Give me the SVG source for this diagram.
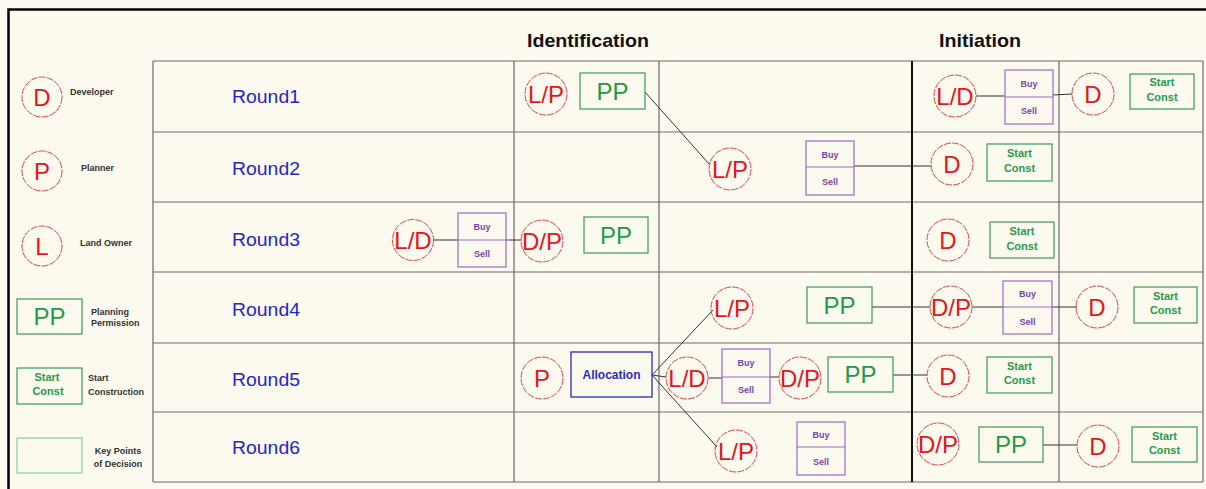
<svg xmlns="http://www.w3.org/2000/svg" width="1206" height="489" viewBox="0 0 1206 489">
<style>
.bg{fill:#fcfaef}
.frame{stroke:#000;stroke-width:2.5;fill:none}
.grid{stroke:#6a6a6a;stroke-width:1.2;fill:none}
.gridk{stroke:#111;stroke-width:2;fill:none}
.circ{fill:none;stroke:#e0454f;stroke-width:1;stroke-dasharray:7 1.2}
.ct{font-family:"Liberation Sans",Arial,sans-serif;font-size:24px;fill:#e8141c;text-anchor:middle}
.pp{fill:none;stroke:#3a9a5a;stroke-width:1.2}
.ppt{font-family:"Liberation Sans",Arial,sans-serif;font-size:24px;fill:#1f9a45;text-anchor:middle}
.sct{font-family:"Liberation Sans",Arial,sans-serif;font-size:11px;font-weight:bold;fill:#2a9a4a;text-anchor:middle}
.bs{fill:none;stroke:#9a6ac8;stroke-width:1.2}
.bst{font-family:"Liberation Sans",Arial,sans-serif;font-size:9px;font-weight:bold;fill:#7a44b0;text-anchor:middle}
.al{fill:none;stroke:#2a2ac0;stroke-width:1.3}
.alt{font-family:"Liberation Sans",Arial,sans-serif;font-size:12px;font-weight:bold;fill:#2a2ac8;text-anchor:middle}
.rnd{font-family:"Liberation Sans",Arial,sans-serif;font-size:17.5px;fill:#2424d0}
.hdr{font-family:"Liberation Sans",Arial,sans-serif;font-size:19px;font-weight:bold;fill:#111;text-anchor:middle}
.lg{font-family:"Liberation Sans",Arial,sans-serif;font-size:9px;font-weight:bold;fill:#333}
.lgc{font-family:"Liberation Sans",Arial,sans-serif;font-size:9px;font-weight:bold;fill:#333;text-anchor:middle}
.con{stroke:#333;stroke-width:1;fill:none}
</style>
<rect class="bg" x="0" y="0" width="1206" height="489"/>
<path class="frame" d="M8.5,489 V9.5 H1206"/>

<g id="grid">
<path class="grid" d="M153,61 H1203 M153,132 H1203 M153,202 H1203 M153,272 H1203 M153,343 H1203 M153,412 H1203 M153,482 H1203"/>
<path class="grid" d="M153,61 V482 M514,61 V482 M659,61 V482 M1059,61 V482 M1203,61 V482"/>
<path class="gridk" d="M912,61 V482"/>
</g>

<g id="headers">
<text class="hdr" x="588" y="47" textLength="122" lengthAdjust="spacingAndGlyphs">Identification</text>
<text class="hdr" x="980" y="47" textLength="82" lengthAdjust="spacingAndGlyphs">Initiation</text>
</g>

<g id="round-labels">
<text class="rnd" x="232" y="103" textLength="68" lengthAdjust="spacingAndGlyphs">Round1</text>
<text class="rnd" x="232" y="175" textLength="68" lengthAdjust="spacingAndGlyphs">Round2</text>
<text class="rnd" x="232" y="246" textLength="68" lengthAdjust="spacingAndGlyphs">Round3</text>
<text class="rnd" x="232" y="316" textLength="68" lengthAdjust="spacingAndGlyphs">Round4</text>
<text class="rnd" x="232" y="386" textLength="68" lengthAdjust="spacingAndGlyphs">Round5</text>
<text class="rnd" x="232" y="454" textLength="68" lengthAdjust="spacingAndGlyphs">Round6</text>
</g>

<g id="legend">
<g id="legend-developer">
<circle class="circ" cx="42" cy="97" r="20"/>
<text class="ct" x="42" y="105.5">D</text>
<text class="lg" x="70" y="95">Developer</text>
</g>
<g id="legend-planner">
<circle class="circ" cx="42" cy="171" r="20"/>
<text class="ct" x="42" y="179.5">P</text>
<text class="lg" x="81" y="171">Planner</text>
</g>
<g id="legend-landowner">
<circle class="circ" cx="42" cy="246" r="20"/>
<text class="ct" x="42" y="254.5">L</text>
<text class="lg" x="80" y="246">Land Owner</text>
</g>
<g id="legend-pp">
<rect class="pp" x="17" y="299" width="65" height="35"/>
<text class="ppt" x="49.5" y="325">PP</text>
<text class="lg" x="91" y="315">Planning</text>
<text class="lg" x="91" y="326">Permission</text>
</g>
<g id="legend-startconst">
<rect class="pp" x="17" y="368" width="65" height="36"/>
<text class="sct" x="47" y="381">Start</text>
<text class="sct" x="48" y="395">Const</text>
<text class="lg" x="88" y="381">Start</text>
<text class="lg" x="88" y="395">Construction</text>
</g>
<g id="legend-keypoints">
<rect class="pp" x="17" y="438" width="65" height="35" style="stroke:#8acaa0"/>
<text class="lgc" x="118" y="454">Key Points</text>
<text class="lgc" x="118" y="467">of Decision</text>
</g>
</g>

<g id="connectors">
<path class="con" d="M645,92 L710,165"/>
<path class="con" d="M854,166 H931"/>
<path class="con" d="M976,96 H1005 M1053,95 L1072,94"/>
<path class="con" d="M433,240 H458 M506,240 H521"/>
<path class="con" d="M872,307 H930 M972,307 H1003 M1052,307 H1077"/>
<path class="con" d="M652,375 L713,310 M652,375 L666,377 M652,375 L717,447"/>
<path class="con" d="M708,378 H722 M770,377 H779"/>
<path class="con" d="M893,375 H927"/>
<path class="con" d="M1043,445 H1077"/>
</g>

<!-- Round 1 -->
<g id="r1-lp">
<circle class="circ" cx="546" cy="94" r="21"/>
<text class="ct" x="546" y="103">L/P</text>
</g>
<g id="r1-pp">
<rect class="pp" x="580" y="73" width="65" height="36"/>
<text class="ppt" x="612.5" y="99.5">PP</text>
</g>
<g id="r1-ld">
<circle class="circ" cx="955" cy="96" r="21"/>
<text class="ct" x="955" y="105">L/D</text>
</g>
<g id="r1-buysell">
<rect class="bs" x="1005" y="70" width="48" height="54"/>
<path class="bs" d="M1005,97 H1053"/>
<text class="bst" x="1029" y="87">Buy</text>
<text class="bst" x="1029" y="114">Sell</text>
</g>
<g id="r1-d">
<circle class="circ" cx="1093" cy="94" r="21"/>
<text class="ct" x="1093" y="102.5">D</text>
</g>
<g id="r1-startconst">
<rect class="pp" x="1130" y="74" width="64" height="35"/>
<text class="sct" x="1162" y="86">Start</text>
<text class="sct" x="1162" y="101">Const</text>
</g>

<!-- Round 2 -->
<g id="r2-lp">
<circle class="circ" cx="730" cy="169" r="21"/>
<text class="ct" x="730" y="178">L/P</text>
</g>
<g id="r2-buysell">
<rect class="bs" x="806" y="141" width="48" height="54"/>
<path class="bs" d="M806,167 H854"/>
<text class="bst" x="830" y="158">Buy</text>
<text class="bst" x="830" y="185">Sell</text>
</g>
<g id="r2-d">
<circle class="circ" cx="952" cy="164" r="21"/>
<text class="ct" x="952" y="172.5">D</text>
</g>
<g id="r2-startconst">
<rect class="pp" x="987" y="144" width="65" height="37"/>
<text class="sct" x="1019.5" y="157">Start</text>
<text class="sct" x="1019.5" y="172">Const</text>
</g>

<!-- Round 3 -->
<g id="r3-ld">
<circle class="circ" cx="413" cy="240" r="20.5"/>
<text class="ct" x="413" y="249">L/D</text>
</g>
<g id="r3-buysell">
<rect class="bs" x="458" y="213" width="48" height="54"/>
<path class="bs" d="M458,240 H506"/>
<text class="bst" x="482" y="230">Buy</text>
<text class="bst" x="482" y="257">Sell</text>
</g>
<g id="r3-dp">
<circle class="circ" cx="542" cy="241" r="21"/>
<text class="ct" x="542" y="250">D/P</text>
</g>
<g id="r3-pp">
<rect class="pp" x="584" y="217" width="64" height="36"/>
<text class="ppt" x="616" y="243.5">PP</text>
</g>
<g id="r3-d">
<circle class="circ" cx="948" cy="240" r="21"/>
<text class="ct" x="948" y="248.5">D</text>
</g>
<g id="r3-startconst">
<rect class="pp" x="990" y="222" width="64" height="36"/>
<text class="sct" x="1022" y="235">Start</text>
<text class="sct" x="1022" y="250">Const</text>
</g>

<!-- Round 4 -->
<g id="r4-lp">
<circle class="circ" cx="732" cy="308" r="21"/>
<text class="ct" x="732" y="317">L/P</text>
</g>
<g id="r4-pp">
<rect class="pp" x="807" y="287" width="65" height="36"/>
<text class="ppt" x="839.5" y="313.5">PP</text>
</g>
<g id="r4-dp">
<circle class="circ" cx="951" cy="307" r="21"/>
<text class="ct" x="951" y="316">D/P</text>
</g>
<g id="r4-buysell">
<rect class="bs" x="1003" y="281" width="49" height="53"/>
<path class="bs" d="M1003,307 H1052"/>
<text class="bst" x="1027.5" y="297">Buy</text>
<text class="bst" x="1027.5" y="325">Sell</text>
</g>
<g id="r4-d">
<circle class="circ" cx="1097" cy="307" r="21"/>
<text class="ct" x="1097" y="315.5">D</text>
</g>
<g id="r4-startconst">
<rect class="pp" x="1134" y="287" width="63" height="36"/>
<text class="sct" x="1165.5" y="300">Start</text>
<text class="sct" x="1165.5" y="314">Const</text>
</g>

<!-- Round 5 -->
<g id="r5-p">
<circle class="circ" cx="542" cy="378" r="21"/>
<text class="ct" x="542" y="386.5">P</text>
</g>
<g id="r5-allocation">
<rect class="al" x="571" y="352" width="81" height="45"/>
<text class="alt" x="611.5" y="379">Allocation</text>
</g>
<g id="r5-ld">
<circle class="circ" cx="687" cy="378" r="21"/>
<text class="ct" x="687" y="387">L/D</text>
</g>
<g id="r5-buysell">
<rect class="bs" x="722" y="349" width="48" height="54"/>
<path class="bs" d="M722,377 H770"/>
<text class="bst" x="746" y="366">Buy</text>
<text class="bst" x="746" y="393">Sell</text>
</g>
<g id="r5-dp">
<circle class="circ" cx="800" cy="378" r="21"/>
<text class="ct" x="800" y="387">D/P</text>
</g>
<g id="r5-pp">
<rect class="pp" x="828" y="357" width="65" height="35"/>
<text class="ppt" x="860.5" y="383">PP</text>
</g>
<g id="r5-d">
<circle class="circ" cx="948" cy="376" r="21"/>
<text class="ct" x="948" y="384.5">D</text>
</g>
<g id="r5-startconst">
<rect class="pp" x="987" y="357" width="65" height="36"/>
<text class="sct" x="1019.5" y="370">Start</text>
<text class="sct" x="1019.5" y="384">Const</text>
</g>

<!-- Round 6 -->
<g id="r6-lp">
<circle class="circ" cx="736" cy="451" r="21"/>
<text class="ct" x="736" y="460">L/P</text>
</g>
<g id="r6-buysell">
<rect class="bs" x="797" y="422" width="48" height="53"/>
<path class="bs" d="M797,447 H845"/>
<text class="bst" x="821" y="438">Buy</text>
<text class="bst" x="821" y="465">Sell</text>
</g>
<g id="r6-dp">
<circle class="circ" cx="938" cy="444" r="21"/>
<text class="ct" x="938" y="453">D/P</text>
</g>
<g id="r6-pp">
<rect class="pp" x="979" y="427" width="64" height="35"/>
<text class="ppt" x="1011" y="453">PP</text>
</g>
<g id="r6-d">
<circle class="circ" cx="1098" cy="446" r="21"/>
<text class="ct" x="1098" y="454.5">D</text>
</g>
<g id="r6-startconst">
<rect class="pp" x="1132" y="427" width="65" height="35"/>
<text class="sct" x="1164.5" y="440">Start</text>
<text class="sct" x="1164.5" y="454">Const</text>
</g>
</svg>
